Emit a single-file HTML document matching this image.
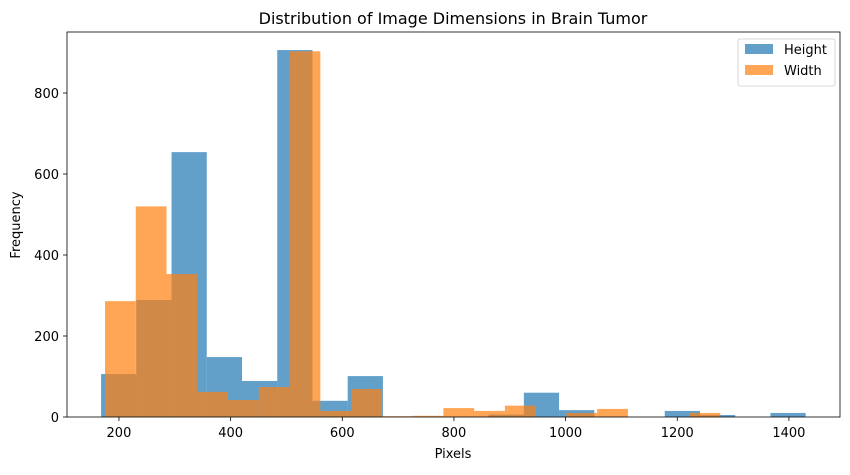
<!DOCTYPE html>
<html><head><meta charset="utf-8"><style>
body{margin:0;background:#fff;font-family:"Liberation Sans","DejaVu Sans",sans-serif}
</style></head><body>
<svg id="chart" width="850" height="470" xmlns="http://www.w3.org/2000/svg" style="font-family:'DejaVu Sans','Liberation Sans',sans-serif">
<rect width="850" height="470" fill="#fff"/>
<g id="bars"></g>
<rect x="67" y="32" width="773" height="385" fill="none" stroke="#000" stroke-width="0.8"/>
<g id="axes" font-size="13" fill="#000"></g>
<text x="453" y="24" text-anchor="middle" font-size="16">Distribution of Image Dimensions in Brain Tumor</text>
<text x="453" y="458" text-anchor="middle" font-size="13">Pixels</text>
<text x="20" y="225" text-anchor="middle" font-size="13" transform="rotate(-90 20 225)">Frequency</text>
<g>
<rect x="738" y="39" width="97" height="47" rx="2" fill="#fff" stroke="#ccc" stroke-width="0.8"/>
<rect x="745" y="44" width="28" height="10" fill="#1f77b4" fill-opacity="0.7"/>
<text x="784" y="54" font-size="13">Height</text>
<rect x="745" y="65" width="28" height="10" fill="#ff7f0e" fill-opacity="0.7"/>
<text x="784" y="75" font-size="13">Width</text>
</g>
</svg>
<script>
const heightMin = 168, heightBinWidth = 63.1;
const heightCounts = [106,289,654,148,89,906,40,101,0,0,0,6,60,17,0,0,15,5,0,10];
const widthMin = 175, widthBinWidth = 55.1;
const widthCounts = [286,520,353,62,42,74,903,15,69,2,3,22,15,28,0,10,20,0,0,10];
const xTicks = [200,400,600,800,1000,1200,1400];
const yTicks = [0,200,400,600,800];

const NS = "http://www.w3.org/2000/svg";
const xs = v => 7.3 + v * 0.5583;
const ys = v => 417 - v * 0.405;
const bars = document.getElementById('bars');
function drawSeries(min, bw, counts, color, name){
  counts.forEach((c,i)=>{
    if(c<=0) return;
    const r = document.createElementNS(NS,'rect');
    const x0 = xs(min + i*bw), x1 = xs(min + (i+1)*bw);
    r.setAttribute('x', x0); r.setAttribute('width', x1-x0);
    r.setAttribute('y', ys(c)); r.setAttribute('height', ys(0)-ys(c));
    r.setAttribute('fill', color); r.setAttribute('fill-opacity','0.7');
    
    
    bars.appendChild(r);
  });
}
drawSeries(heightMin, heightBinWidth, heightCounts, '#1f77b4', 'height');
drawSeries(widthMin, widthBinWidth, widthCounts, '#ff7f0e', 'width');

const axes = document.getElementById('axes');
xTicks.forEach(t=>{
  const l = document.createElementNS(NS,'line');
  l.setAttribute('x1',xs(t)); l.setAttribute('x2',xs(t)); l.setAttribute('y1',417); l.setAttribute('y2',421);
  l.setAttribute('stroke','#000'); l.setAttribute('stroke-width','0.8');
  
  
  axes.appendChild(l);
  const tx = document.createElementNS(NS,'text');
  tx.setAttribute('x',xs(t)); tx.setAttribute('y',437); tx.setAttribute('text-anchor','middle');
  tx.textContent = t;
  
  
  axes.appendChild(tx);
});
yTicks.forEach(t=>{
  const l = document.createElementNS(NS,'line');
  l.setAttribute('x1',63); l.setAttribute('x2',67); l.setAttribute('y1',ys(t)); l.setAttribute('y2',ys(t));
  l.setAttribute('stroke','#000'); l.setAttribute('stroke-width','0.8');
  
  
  axes.appendChild(l);
  const tx = document.createElementNS(NS,'text');
  tx.setAttribute('x',59); tx.setAttribute('y',ys(t)+5); tx.setAttribute('text-anchor','end');
  tx.textContent = t;
  
  
  axes.appendChild(tx);
});
</script>
</body></html>
